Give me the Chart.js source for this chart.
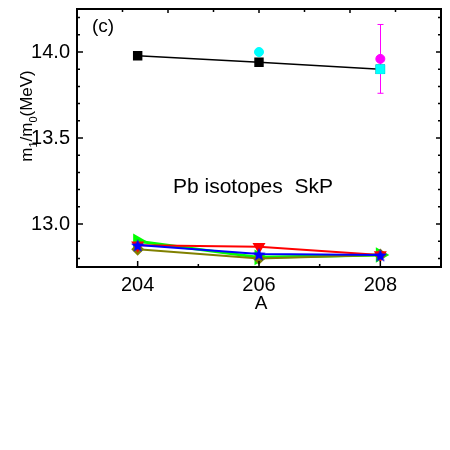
<!DOCTYPE html>
<html>
<head>
<meta charset="utf-8">
<script src="https://cdn.jsdelivr.net/npm/chart.js@4/dist/chart.umd.min.js"></script>
<style>
  html, body { margin: 0; background: #fff; }
  canvas { display: block; }
</style>
</head>
<body>
<canvas id="chart" width="450" height="450"></canvas>
<script>
(function () {
  'use strict';

  // Pb isotopes, SkP: m1/m0 in MeV
  var MASS = [204, 206, 208];
  var BLACK_SQ = [13.978, 13.94, 13.90];
  var CYAN_CIRCLE = [null, 14.00, null];
  var CYAN_SQ = [null, null, 13.90];
  var MAGENTA = [null, null, 13.96];
  var MAGENTA_ERR = [null, null, 0.20];
  var BLUE_STAR = [12.878, 12.826, 12.82];
  var RED_TRI = [12.877, 12.868, 12.82];
  var GREEN_TRI = [12.90, 12.806, 12.82];
  var OLIVE_DIA = [12.853, 12.80, 12.82];

  var X_TICKS = [204, 206, 208];
  var X_MINOR = [203, 205, 207, 209];
  var TOP_LONG = [204.5, 206, 207.5];
  var TOP_SHORT = [203.75, 205.25, 206.75, 208.25];
  var Y_TICKS = [13.0, 13.5, 14.0];
  var Y_MINOR = [12.8, 12.9, 13.1, 13.2, 13.3, 13.4, 13.6, 13.7, 13.8, 13.9, 14.1, 14.2];

  var FONT = '"Liberation Sans", Arial, sans-serif';

  function pts(values) {
    var out = [];
    values.forEach(function (v, i) {
      if (v !== null) out.push({ x: MASS[i], y: v });
    });
    return out;
  }

  function starImage(color, r) {
    var size = Math.ceil(r * 2 + 2);
    var c = document.createElement('canvas');
    c.width = c.height = size;
    var g = c.getContext('2d');
    g.fillStyle = color;
    g.beginPath();
    for (var i = 0; i < 10; i++) {
      var rr = i % 2 ? r * 0.42 : r;
      var a = -Math.PI / 2 + i * Math.PI / 5;
      g.lineTo(size / 2 + rr * Math.cos(a), size / 2 + 1 + rr * Math.sin(a));
    }
    g.closePath();
    g.fill();
    return c;
  }

  // error bars under the markers
  var errorBars = {
    id: 'errorBars',
    beforeDatasetsDraw: function (chart) {
      var x = chart.scales.x, y = chart.scales.y, ctx = chart.ctx;
      ctx.save();
      ctx.strokeStyle = '#ff00ff';
      ctx.lineWidth = 1;
      MAGENTA.forEach(function (v, i) {
        if (v === null) return;
        var px = Math.round(x.getPixelForValue(MASS[i])) + 0.5;
        var top = y.getPixelForValue(v + MAGENTA_ERR[i]);
        var bot = y.getPixelForValue(v - MAGENTA_ERR[i]);
        ctx.beginPath();
        ctx.moveTo(px, top); ctx.lineTo(px, bot);
        ctx.moveTo(px - 3, top); ctx.lineTo(px + 3, top);
        ctx.moveTo(px - 3, bot); ctx.lineTo(px + 3, bot);
        ctx.stroke();
      });
      ctx.restore();
    }
  };

  // frame with inward ticks on all four sides, plus texts
  var frame = {
    id: 'frame',
    afterDraw: function (chart) {
      var a = chart.chartArea, x = chart.scales.x, y = chart.scales.y, ctx = chart.ctx;
      ctx.save();
      ctx.strokeStyle = '#000';
      ctx.lineWidth = 1.5;
      ctx.beginPath();
      function vt(v, y0, len) { var p = x.getPixelForValue(v); ctx.moveTo(p, y0); ctx.lineTo(p, y0 + len); }
      function ht(v, x0, len) { var p = y.getPixelForValue(v); ctx.moveTo(x0, p); ctx.lineTo(x0 + len, p); }
      X_TICKS.forEach(function (v) { vt(v, a.bottom, -6); });
      X_MINOR.forEach(function (v) { vt(v, a.bottom, -3); });
      TOP_LONG.forEach(function (v) { vt(v, a.top, 4); });
      TOP_SHORT.forEach(function (v) { vt(v, a.top, 3); });
      Y_TICKS.forEach(function (v) { ht(v, a.left, 6); ht(v, a.right, -5); });
      Y_MINOR.forEach(function (v) { ht(v, a.left, 3); ht(v, a.right, -3); });
      ctx.stroke();

      ctx.lineWidth = 2;
      ctx.strokeRect(a.left, a.top, a.right - a.left, a.bottom - a.top);

      ctx.fillStyle = '#000';
      ctx.textBaseline = 'alphabetic';
      ctx.textAlign = 'left';
      ctx.font = '19px ' + FONT;
      ctx.fillText('(c)', a.left + 15, a.top + 23);
      ctx.font = '21px ' + FONT;
      ctx.fillText('Pb isotopes  SkP', a.left + 96, a.top + 184);

      ctx.font = '19px ' + FONT;
      ctx.textAlign = 'center';
      ctx.fillText('A', (a.left + a.right) / 2 + 2, a.bottom + 42);

      // y title with subscripts, rotated
      var parts = [['m', 0], ['1', 1], ['/m', 0], ['0', 1], ['(MeV)', 0]];
      var big = '17px ' + FONT, small = '11px ' + FONT;
      var total = 0;
      parts.forEach(function (p) { ctx.font = p[1] ? small : big; total += ctx.measureText(p[0]).width; });
      ctx.translate(32, 116 + total / 2);
      ctx.rotate(-Math.PI / 2);
      ctx.textAlign = 'left';
      var cx = 0;
      parts.forEach(function (p) {
        ctx.font = p[1] ? small : big;
        ctx.fillText(p[0], cx, p[1] ? 5 : 0);
        cx += ctx.measureText(p[0]).width;
      });
      ctx.restore();
    }
  };

  var tickFont = { family: FONT, size: 20 };

  new Chart(document.getElementById('chart'), {
    type: 'scatter',
    data: {
      datasets: [
        { data: pts(BLUE_STAR), showLine: true, borderColor: '#0000ff', borderWidth: 2,
          pointStyle: starImage('#0000ff', 7), pointRadius: 6 },
        { data: pts(RED_TRI), showLine: true, borderColor: '#ff0000', backgroundColor: '#ff0000', borderWidth: 2,
          pointStyle: 'triangle', rotation: 180, pointRadius: 5.5 },
        { data: pts(OLIVE_DIA), showLine: true, borderColor: '#808000', backgroundColor: '#808000', borderWidth: 2,
          pointStyle: 'rectRot', pointRadius: 5 },
        { data: pts(GREEN_TRI), showLine: true, borderColor: '#00ff00', backgroundColor: '#00ff00', borderWidth: 3,
          pointStyle: 'triangle', rotation: 90, pointRadius: 6 },
        { data: pts(MAGENTA), borderColor: '#ff00ff', backgroundColor: '#ff00ff',
          pointStyle: 'circle', pointRadius: 4.5 },
        { data: pts(CYAN_SQ), borderColor: '#00ffff', backgroundColor: '#00ffff',
          pointStyle: 'rect', pointRadius: 6.2 },
        { data: pts(CYAN_CIRCLE), borderColor: '#00ffff', backgroundColor: '#00ffff',
          pointStyle: 'circle', pointRadius: 4.5 },
        { data: pts(BLACK_SQ), showLine: true, borderColor: '#000', backgroundColor: '#000', borderWidth: 1.5,
          pointStyle: 'rect', pointRadius: 5.6 }
      ]
    },
    options: {
      responsive: false,
      animation: false,
      events: [],
      layout: { padding: { left: 0, top: 9, right: 8, bottom: 143 } },
      plugins: { legend: { display: false }, tooltip: { enabled: false } },
      scales: {
        x: {
          type: 'linear', min: 203, max: 209,
          afterBuildTicks: function (s) { s.ticks = X_TICKS.map(function (v) { return { value: v }; }); },
          afterFit: function (s) { s.height = 40; s.paddingLeft = 0; s.paddingRight = 0; },
          grid: { display: false, drawTicks: false },
          border: { display: false },
          ticks: { padding: 6, color: '#000', font: tickFont, maxRotation: 0 }
        },
        y: {
          type: 'linear', min: 12.75, max: 14.25,
          afterBuildTicks: function (s) { s.ticks = Y_TICKS.map(function (v) { return { value: v }; }); },
          afterFit: function (s) { s.width = 77; s.paddingTop = 0; s.paddingBottom = 0; },
          grid: { display: false, drawTicks: false },
          border: { display: false },
          ticks: { padding: 7, color: '#000', font: tickFont,
            callback: function (v) { return Number(v).toFixed(1); } }
        }
      }
    },
    plugins: [errorBars, frame]
  });
}());
</script>
</body>
</html>
